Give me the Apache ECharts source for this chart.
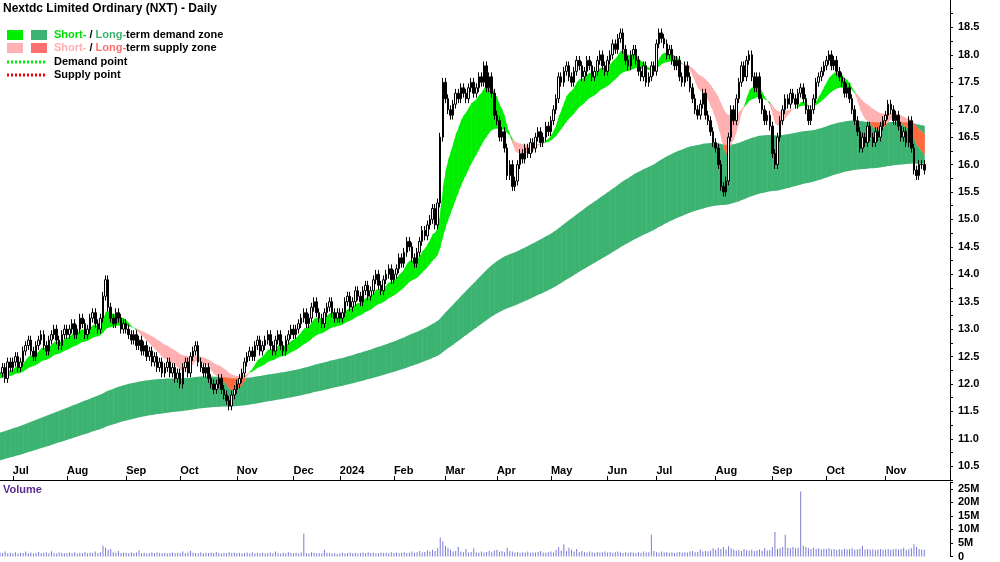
<!DOCTYPE html>
<html>
<head>
<meta charset="UTF-8">
<title>Nextdc</title>
<script src="https://cdn.jsdelivr.net/npm/echarts@6/dist/echarts.min.js"></script>
<style>html,body{margin:0;background:#fff}#c{width:1000px;height:562px}</style>
</head>
<body>
<div id="c"></div>
<script>
// daily closes, month by month (Jun-23 .. Nov-24)
var closes = [].concat(
 [12.2,12.3,12.1,12.4,12.3],
 [12.4,12.5,12.3,12.4,12.6,12.7,12.8,12.6,12.5,12.7,12.8,12.9,12.7,12.6,12.8,12.9,13.0,12.8,12.7,12.9,13.0],
 [12.9,13.0,13.1,12.9,13.0,13.2,13.1,12.9,13.0,13.2,13.3,13.1,13.0,13.2,13.6,13.9,13.4,13.2,13.1,13.3,13.2,13.0,13.1],
 [13.0,12.9,12.8,12.9,12.7,12.8,12.6,12.7,12.5,12.6,12.4,12.5,12.3,12.4,12.2,12.3,12.4,12.2,12.3,12.1,12.2],
 [12.0,12.3,12.4,12.2,12.5,12.6,12.7,12.4,12.3,12.2,12.3,12.1,12.0,11.9,12.0,12.1,11.9,11.8,11.7,11.6,11.8,11.9],
 [12.0,12.1,12.2,12.4,12.5,12.6,12.5,12.7,12.8,12.6,12.7,12.8,12.9,12.7,12.6,12.8,12.9,12.7,12.6,12.8,12.9,13.0],
 [12.9,13.0,13.1,13.2,13.3,13.1,13.2,13.4,13.5,13.3,13.2,13.1,13.3,13.4,13.5,13.3,13.2,13.3],
 [13.2,13.3,13.5,13.6,13.4,13.5,13.7,13.6,13.5,13.7,13.8,13.6,13.7,13.9,14.0,13.8,13.7,13.9,14.0,14.1,13.9],
 [14.0,14.1,14.3,14.2,14.4,14.6,14.5,14.3,14.2,14.4,14.6,14.8,14.7,14.9,15.0,15.2,14.9,15.3,16.5,17.5],
 [17.2,17.0,16.9,17.1,17.3,17.2,17.4,17.3,17.2,17.4,17.5,17.3,17.4,17.6,17.5,17.8,17.4,17.6,17.3,16.9],
 [16.8,16.5,16.6,16.3,15.8,16.0,15.6,15.7,16.0,16.2,16.1,16.3,16.2,16.4,16.3,16.5,16.6,16.4,16.5,16.7,16.6],
 [16.8,17.0,17.2,17.6,17.5,17.7,17.8,17.6,17.5,17.7,17.9,17.8,17.6,17.7,17.9,17.8,17.6,17.7,17.9,18.0,17.8,17.7],
 [17.9,18.0,18.2,18.1,18.3,18.4,18.1,17.9,17.8,18.0,18.1,17.9,17.7,17.6,17.8,17.5,17.6,17.8,17.7],
 [18.2,18.4,18.3,18.2,18.0,18.1,17.9,17.8,17.9,17.6,17.5,17.8,17.6,17.4,17.2,17.0,16.9,17.1,17.3,16.9,16.8,16.6,16.4],
 [16.3,16.0,15.6,15.5,15.7,16.5,17.0,16.8,17.2,17.5,17.8,17.6,17.9,18.0,17.6,17.4,17.6,17.2,17.0,16.8,16.9,16.7],
 [16.2,16.0,16.5,16.8,17.0,17.2,17.1,17.3,17.2,17.1,17.3,17.4,17.2,17.0,16.8,17.0,17.2,17.5,17.6,17.7,17.8],
 [17.9,18.0,17.8,17.9,17.7,17.6,17.5,17.3,17.4,17.2,17.0,16.8,16.6,16.3,16.5,16.4,16.7,16.5,16.4,16.6,16.5,16.7,16.8],
 [16.9,17.1,17.0,16.8,16.9,16.7,16.5,16.6,16.4,16.8,16.3,15.9,15.8,16.0,16.0,15.9]
);
// daily volume, millions
var volumes = [].concat(
 [1.5,1.3,1.8,1.2,1.4],
 [1.2,1.6,1.1,1.4,1.3,1.8,1.2,1.5,1.1,1.3,1.7,1.2,1.4,1.6,1.2,1.9,1.3,1.1,1.5,1.4,1.2],
 [1.3,1.5,1.2,1.6,1.1,1.4,1.3,1.7,1.2,1.5,1.4,1.8,1.3,1.6,4.0,3.2,2.5,2.8,1.6,1.4,2.0,1.3,1.5],
 [1.4,1.2,1.6,1.3,1.5,2.3,1.2,1.4,1.1,1.3,1.6,1.2,1.5,1.3,1.2,1.4,1.1,1.3,1.5,1.2,1.4],
 [1.3,1.8,1.2,1.5,2.0,1.4,1.3,1.1,1.6,1.2,1.4,1.3,1.5,1.2,1.7,1.3,1.1,1.4,1.2,1.6,1.3,1.5],
 [1.2,1.4,1.1,1.3,1.5,1.2,1.6,1.1,1.3,1.2,1.4,1.1,1.3,1.5,1.2,1.8,1.3,1.1,1.4,1.2,1.6,1.3],
 [1.2,1.4,1.1,1.5,8.5,1.3,1.2,1.6,1.4,1.1,1.3,1.2,2.5,1.4,1.3,1.1,1.2,1.0],
 [1.2,1.4,1.1,1.3,1.5,1.2,1.4,1.1,1.3,1.5,1.2,1.6,1.3,1.4,1.1,1.2,1.5,1.3,1.4,1.2,1.6],
 [1.3,1.5,1.2,1.4,1.6,1.3,1.5,1.8,1.4,1.6,2.0,1.5,1.7,2.2,1.8,2.5,2.0,3.0,7.0,5.5],
 [4.0,3.2,2.5,1.8,2.0,3.5,1.8,1.6,2.8,1.5,1.7,3.0,1.6,1.4,1.8,1.5,1.7,2.0,1.6,2.2],
 [2.5,1.8,2.0,1.6,3.2,2.0,1.8,1.5,1.7,1.4,1.6,1.5,1.8,1.4,1.6,1.5,1.7,2.0,1.5,1.4,1.6],
 [1.8,1.5,2.5,3.5,2.2,4.5,2.0,3.2,2.5,1.8,2.8,1.6,2.0,1.7,1.5,1.8,1.6,1.4,1.7,1.5,1.6,1.8],
 [1.5,1.7,1.4,1.6,1.8,1.5,1.3,1.6,1.4,1.7,1.5,1.3,1.6,1.4,1.8,1.5,1.6,8.0,2.0],
 [1.6,1.4,1.8,1.5,1.7,1.4,1.6,1.3,1.5,1.7,1.4,1.6,1.5,1.8,2.0,1.6,1.7,2.5,1.8,2.0,1.9,2.2,3.0],
 [2.5,3.2,2.8,3.5,2.5,3.8,3.0,2.6,2.2,2.4,2.0,2.8,2.3,2.1,2.5,2.0,2.3,2.6,2.1,3.0,2.2,2.4],
 [3.5,9.0,2.8,3.0,3.5,8.0,3.2,3.0,3.5,3.0,3.2,24.0,4.0,3.5,3.0,2.8,3.2,2.8,3.0,2.6,2.9],
 [2.8,3.0,2.6,2.8,2.4,2.7,2.5,2.9,2.6,2.8,3.0,2.5,2.7,2.9,4.0,2.6,2.8,2.5,2.7,2.4,2.6,2.8,2.5],
 [2.6,2.8,2.5,2.7,2.9,2.6,2.8,3.2,2.5,2.7,3.0,4.5,3.5,2.8,2.6,2.5]
);
// month tick labels keyed by bar index
var monthTicks = {5:'Jul',26:'Aug',49:'Sep',70:'Oct',92:'Nov',114:'Dec',132:'2024',153:'Feb',173:'Mar',
  193:'Apr',214:'May',236:'Jun',255:'Jul',278:'Aug',300:'Sep',321:'Oct',344:'Nov'};
var emptyBars = 10; // blank space to the right of the last bar

function ema(src, n, seed) {
  var k = 2 / (n + 1), v = seed, out = [];
  for (var i = 0; i < src.length; i++) { v = src[i] * k + v * (1 - k); out.push(v); }
  return out;
}
var sFast = ema(closes, 10, 12.2), sSlow = ema(closes, 30, 12.1);
var lFast = ema(closes, 150, 11.1), lSlow = ema(closes, 260, 10.6);

var cats = [], candles = [];
for (var i = 0; i < closes.length + emptyBars; i++) cats.push(String(i));
for (var i = 0; i < closes.length; i++) {
  var o = i ? closes[i - 1] : closes[0], c = closes[i];
  candles.push([o, c, Math.min(o, c) - 0.08, Math.max(o, c) + 0.08]);
}
var shortBand = [], longBand = [], overlap = [];
for (var i = 0; i < closes.length; i++) {
  var sl = Math.min(sFast[i], sSlow[i]), sh = Math.max(sFast[i], sSlow[i]);
  var ll = Math.min(lFast[i], lSlow[i]), lh = Math.max(lFast[i], lSlow[i]);
  shortBand.push([i, sl, sh, sFast[i] >= sSlow[i] ? 1 : 0]);
  longBand.push([i, ll, lh, lFast[i] >= lSlow[i] ? 1 : 0]);
  overlap.push([i, Math.max(sl, ll), Math.min(sh, lh), sFast[i] < sSlow[i] ? 1 : 0]);
}

function bandSeries(data, up, down, onlyFlag) {
  return {
    type: 'custom', xAxisIndex: 0, yAxisIndex: 0, silent: true,
    encode: { x: 0, y: [1, 2] },
    data: data,
    renderItem: function (params, api) {
      var i = api.value(0);
      if (i >= data.length - 1) return;
      var a = data[i], b = data[i + 1];
      if (onlyFlag) {
        if (!a[3] || a[2] <= a[1] || b[2] <= b[1]) return;
      }
      var p1 = api.coord([i, a[1]]), p2 = api.coord([i + 1, b[1]]);
      var p3 = api.coord([i + 1, b[2]]), p4 = api.coord([i, a[2]]);
      p2[0] += 0.5; p3[0] += 0.5;
      return { type: 'polygon', shape: { points: [p1, p2, p3, p4] },
        style: { fill: a[3] ? up : down, stroke: null } };
    }
  };
}

var chart = echarts.init(document.getElementById('c'));
chart.setOption({
  animation: false,
  backgroundColor: '#fff',
  textStyle: { fontFamily: 'Liberation Sans, Arial' },
  grid: [
    { left: 0, right: 50, top: 0, height: 480 },
    { left: 0, right: 50, top: 482, bottom: 4 }
  ],
  xAxis: [
    { type: 'category', data: cats, gridIndex: 0, boundaryGap: false,
      axisLine: { lineStyle: { color: '#000' } },
      axisTick: { inside: true, length: 4, interval: function (i) { return monthTicks[i] !== undefined; }, lineStyle: { color: '#000' } },
      axisLabel: { inside: true, interval: function (i) { return monthTicks[i] !== undefined; },
        formatter: function (v) { return monthTicks[v] || ''; },
        align: 'left', color: '#000', fontSize: 11, fontWeight: 'bold', margin: 4 } },
    { type: 'category', data: cats, gridIndex: 1, boundaryGap: false,
      axisLine: { show: false }, axisTick: { show: false }, axisLabel: { show: false } }
  ],
  yAxis: [
    { type: 'value', gridIndex: 0, position: 'right', min: 10.25, max: 19, interval: 0.25,
      axisLine: { show: true, lineStyle: { color: '#000' } },
      axisTick: { show: true, length: 3, lineStyle: { color: '#000' } },
      splitLine: { show: false },
      axisLabel: { color: '#000', fontSize: 11, fontWeight: 'bold', margin: 8, showMaxLabel: false,
        formatter: function (v) { return Math.abs(v * 2 - Math.round(v * 2)) < 1e-6 ? v.toFixed(1) : ''; } } },
    { type: 'value', gridIndex: 1, position: 'right', min: 0, max: 27.5, interval: 5,
      axisLine: { show: true, lineStyle: { color: '#000' } },
      axisTick: { show: true, length: 3, lineStyle: { color: '#000' } },
      splitLine: { show: false },
      axisLabel: { color: '#000', fontSize: 11, fontWeight: 'bold', margin: 8,
        formatter: function (v) { return v === 0 ? '0' : (v % 5 === 0 ? v + 'M' : ''); } } }
  ],
  series: [
    bandSeries(longBand, '#3cb371', '#ff6a3d'),
    bandSeries(shortBand, '#00ee00', '#ffb0b0'),
    bandSeries(overlap, '#ff6a3d', '#ff6a3d', true),
    { type: 'candlestick', data: candles, xAxisIndex: 0, yAxisIndex: 0, barWidth: 2,
      itemStyle: { color: '#fff', color0: '#000', borderColor: '#000', borderColor0: '#000', borderWidth: 1 } },
    { type: 'bar', data: volumes, xAxisIndex: 1, yAxisIndex: 1, barWidth: 1,
      itemStyle: { color: '#7b7bd6' } }
  ],
  graphic: [
    { type: 'text', left: 3, top: 3, style: { text: 'Nextdc Limited Ordinary (NXT) - Daily', font: 'bold 12px Liberation Sans, Arial', fill: '#000' } },
    { type: 'rect', shape: { x: 7, y: 30, width: 16, height: 10 }, style: { fill: '#00ee00' } },
    { type: 'rect', shape: { x: 31, y: 30, width: 16, height: 10 }, style: { fill: '#3cb371' } },
    { type: 'rect', shape: { x: 7, y: 43, width: 16, height: 10 }, style: { fill: '#ffb0b0' } },
    { type: 'rect', shape: { x: 31, y: 43, width: 16, height: 10 }, style: { fill: '#ff7070' } },
    { type: 'line', shape: { x1: 7, y1: 62, x2: 47, y2: 62 }, style: { stroke: '#00ee00', lineWidth: 3, lineDash: [2, 2] } },
    { type: 'line', shape: { x1: 7, y1: 75, x2: 47, y2: 75 }, style: { stroke: '#ee0000', lineWidth: 3, lineDash: [2, 2] } },
    { type: 'text', left: 54, top: 29, style: { text: '{g|Short-} / {d|Long-}term demand zone', font: 'bold 11px Liberation Sans, Arial', fill: '#000',
      rich: { g: { fill: '#00dd00', font: 'bold 11px Liberation Sans, Arial' }, d: { fill: '#3cb371', font: 'bold 11px Liberation Sans, Arial' } } } },
    { type: 'text', left: 54, top: 42, style: { text: '{g|Short-} / {d|Long-}term supply zone', font: 'bold 11px Liberation Sans, Arial', fill: '#000',
      rich: { g: { fill: '#ffb0b0', font: 'bold 11px Liberation Sans, Arial' }, d: { fill: '#ff7070', font: 'bold 11px Liberation Sans, Arial' } } } },
    { type: 'text', left: 54, top: 56, style: { text: 'Demand point', font: 'bold 11px Liberation Sans, Arial', fill: '#000' } },
    { type: 'text', left: 54, top: 69, style: { text: 'Supply point', font: 'bold 11px Liberation Sans, Arial', fill: '#000' } },
    { type: 'text', left: 3, top: 484, style: { text: 'Volume', font: 'bold 11px Liberation Sans, Arial', fill: '#5a2d91' } }
  ]
});
</script>
</body>
</html>
